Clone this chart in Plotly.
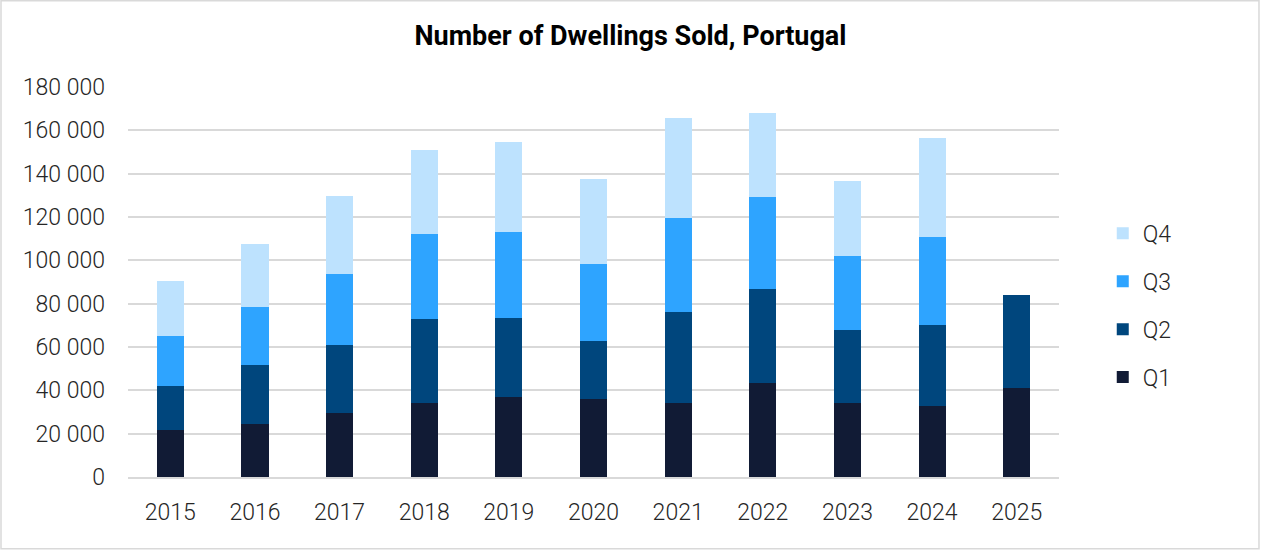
import plotly.graph_objects as go

years = ["2015", "2016", "2017", "2018", "2019", "2020", "2021", "2022", "2023", "2024", "2025"]
q1 = [21700, 24500, 29500, 34200, 36900, 36000, 34200, 43400, 34200, 32800, 41100]
q2 = [20300, 27200, 31400, 38700, 36500, 26800, 41800, 43200, 33600, 37400, 43000]
q3 = [23100, 26800, 32900, 39200, 39700, 35500, 43500, 42600, 34300, 40700, None]
q4 = [25500, 29200, 35900, 38800, 41500, 39200, 46200, 38800, 34700, 45600, None]

series = [("Q1", q1, "#111b35"), ("Q2", q2, "#00467d"), ("Q3", q3, "#2ea4ff"), ("Q4", q4, "#bde2fe")]

fig = go.Figure()
for i, (name, vals, col) in enumerate(series):
    fig.add_trace(go.Bar(x=years, y=vals, name=name, legendgroup=name,
                         legendrank=1000 - i,
                         marker=dict(color=col, line=dict(width=0))))

fig.update_layout(
    barmode="stack",
    bargap=0.68,
    width=1261, height=553,
    margin=dict(l=128, r=202, t=87, b=76),
    paper_bgcolor="white", plot_bgcolor="white",
    separators=", ",
    font=dict(family="Roboto", size=23, color="#262626", weight=300),
    title=dict(text="<b>Number of Dwellings Sold, Portugal</b>", x=0.5, xanchor="center",
               y=0.935, yanchor="middle",
               font=dict(family="Roboto", size=27, color="#000000", weight=700)),
    legend=dict(traceorder="grouped", x=1.047, xanchor="left", y=0.44, yanchor="middle",
                tracegroupgap=15, font=dict(size=23, color="#262626"), bgcolor="rgba(0,0,0,0)"),
    xaxis=dict(showgrid=False, showline=True, linecolor="#d9d9d9", linewidth=1.5,
               ticks="", ticklabelstandoff=14),
    yaxis=dict(range=[0, 180000], dtick=20000, tickformat=",d", showgrid=True,
               gridcolor="#d9d9d9", gridwidth=1.5, zeroline=False, ticks="",
               ticklabelstandoff=22, showline=False),
    shapes=[dict(type="rect", xref="paper", yref="paper", x0=-0.1364, x1=1.2148,
                 y0=-0.1838, y1=1.2213, line=dict(color="#d9d9d9", width=1.5),
                 fillcolor="rgba(0,0,0,0)", layer="below")],
)

fig.write_html("out.html", config={"displayModeBar": False},
               post_script="document.body.style.margin='0';")
